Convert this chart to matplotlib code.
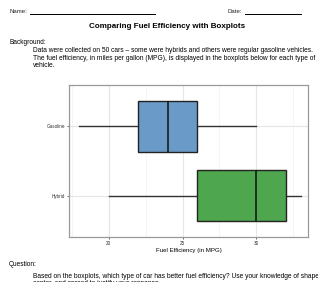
#!/usr/bin/env python3

# fuel efficiency worksheet: two horizontal boxplots
import matplotlib
matplotlib.use("Agg")
import matplotlib.pyplot as plt

# boxplot summaries (MPG)
categories = ["Hybrid", "Gasoline"]
mins = [20, 18]
q1s = [26, 22]
medians = [30, 24]
q3s = [32, 26]
maxs = [33, 30]
fills = ["#4ea64e", "#6a9bc8"]

xticks = [20, 25, 30]

plt.rcParams['font.family'] = ['Liberation Sans', 'DejaVu Sans']

fig = plt.figure(figsize=(3.18, 2.82), dpi=100)
W, H = 318.0, 282.0

def px(x, y, s, **kw):
    fig.text(x / W, 1 - y / H, s, **kw)

# header
px(10, 13, "Name:", fontsize=4.3, color="#222222", va="baseline")
fig.add_artist(plt.Line2D([30 / W, 155 / W], [1 - 13.5 / H] * 2, color="black", lw=0.7))
px(228, 13, "Date:", fontsize=4.3, color="#222222", va="baseline")
fig.add_artist(plt.Line2D([245 / W, 301 / W], [1 - 13.5 / H] * 2, color="black", lw=0.7))
px(167, 26, "Comparing Fuel Efficiency with Boxplots", fontsize=5.8,
   fontweight="bold", ha="center", va="center")

px(9, 42, "Background:", fontsize=4.7, va="center")
background = ["Data were collected on 50 cars \u2013 some were hybrids and others were regular gasoline vehicles.",
              "The fuel efficiency, in miles per gallon (MPG), is displayed in the boxplots below for each type of",
              "vehicle."]
for i, line in enumerate(background):
    px(33, 51 + 7 * i, line, fontsize=4.75, va="center")

px(9, 264, "Question:", fontsize=4.7, va="center")
question = ["Based on the boxplots, which type of car has better fuel efficiency? Use your knowledge of shape,",
            "center, and spread to justify your response."]
for i, line in enumerate(question):
    px(33, 276 + 7.5 * i, line, fontsize=4.75, va="center")

# chart panel
ax = fig.add_axes([69 / W, 1 - 237 / H, 239 / W, 152 / H])
stats = []
for i in range(len(categories)):
    stats.append(dict(label=categories[i], whislo=mins[i], q1=q1s[i], med=medians[i],
                      q3=q3s[i], whishi=maxs[i], fliers=[]))
bp = ax.bxp(stats, positions=[1, 2], widths=0.75, vert=False, patch_artist=True,
            showcaps=False,
            boxprops=dict(edgecolor="#222222", linewidth=1.0),
            medianprops=dict(color="#111111", linewidth=1.1),
            whiskerprops=dict(color="#333333", linewidth=1.0))
for patch, c in zip(bp["boxes"], fills):
    patch.set_facecolor(c)

for b in bp["boxes"]:
    b.set_zorder(3)
for m in bp["medians"]:
    m.set_zorder(4)

ax.set_xlim(17.3, 33.5)
ax.set_ylim(0.4, 2.6)
ax.set_xticks(xticks)
ax.set_xticks([17.5, 22.5, 27.5, 32.5], minor=True)
ax.set_yticks([1, 2])
ax.set_yticklabels(categories)
ax.tick_params(axis="both", which="major", labelsize=3.3, length=1.5, width=0.5,
               colors="#333333", pad=1.5)
ax.tick_params(axis="x", which="minor", length=0)
ax.grid(True, which="major", color="#e6e6e6", lw=0.8, zorder=0)
ax.grid(True, which="minor", axis="x", color="#f2f2f2", lw=0.5, zorder=0)
ax.set_axisbelow(True)
for s in ax.spines.values():
    s.set_color("#999999")
    s.set_linewidth(0.9)
ax.set_xlabel("Fuel Efficiency (in MPG)", fontsize=4.4, labelpad=1.5)

fig.savefig("out.png", dpi=100)
